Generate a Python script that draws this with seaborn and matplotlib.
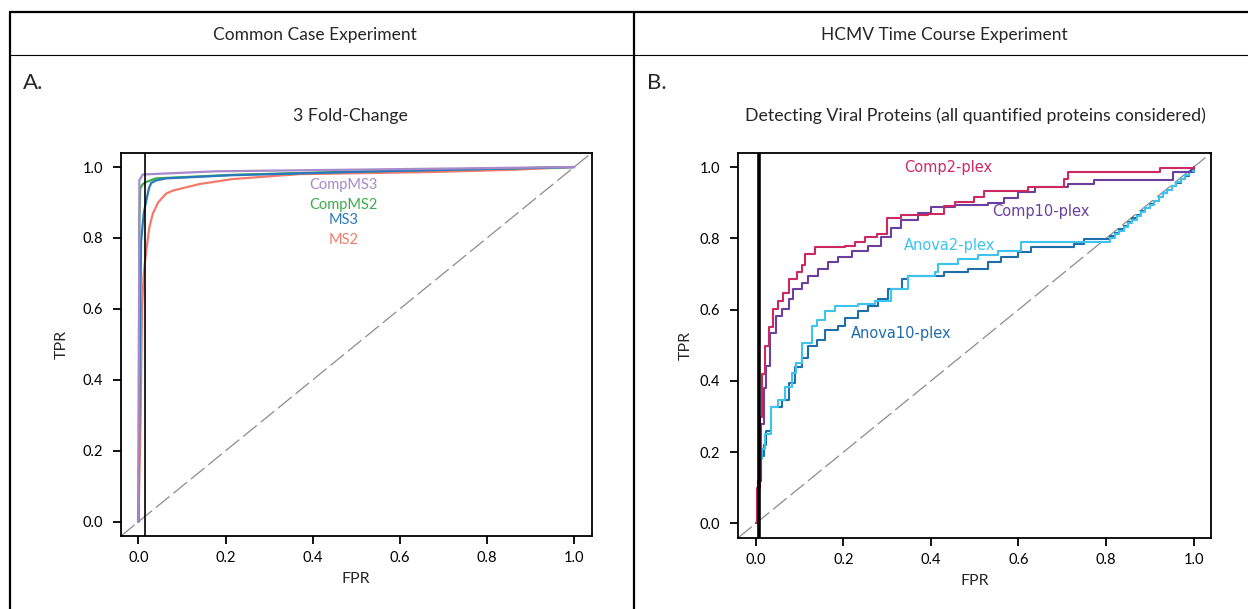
import matplotlib
matplotlib.use("Agg")
import matplotlib.pyplot as plt
from matplotlib.lines import Line2D
import pandas as pd
import seaborn as sns

# --- Panel A: common case experiment, 3 fold-change ---
ms2_fpr = [0.0, 0.005, 0.008, 0.012, 0.018, 0.025, 0.033, 0.045, 0.063, 0.08, 0.10, 0.14,
           0.215, 0.368, 0.673, 0.85, 1.0]
ms2_tpr = [0.0, 0.30, 0.60, 0.70, 0.765, 0.83, 0.869, 0.90, 0.925, 0.934, 0.94, 0.952,
           0.966, 0.98, 0.986, 0.992, 1.0]
compms2_fpr = [0.0, 0.002, 0.004, 0.01, 0.018, 0.04, 0.215, 0.52, 1.0]
compms2_tpr = [0.0, 0.85, 0.94, 0.952, 0.958, 0.968, 0.978, 0.988, 1.0]
ms3_fpr = [0.0, 0.003, 0.006, 0.012, 0.018, 0.024, 0.029, 0.04, 0.063, 0.215, 0.52, 1.0]
ms3_tpr = [0.0, 0.5, 0.79, 0.87, 0.906, 0.94, 0.955, 0.962, 0.968, 0.977, 0.987, 1.0]
compms3_fpr = [0.0, 0.002, 0.01, 0.178, 1.0]
compms3_tpr = [0.0, 0.963, 0.979, 0.988, 1.0]

# --- Panel B: HCMV time course, viral proteins ---
comp2_fpr = [0.0, 0.004, 0.01, 0.015, 0.021, 0.030, 0.040, 0.052, 0.063, 0.075, 0.094, 0.105,
             0.113, 0.135, 0.204, 0.227, 0.249, 0.276, 0.299, 0.332, 0.393, 0.431, 0.454, 0.499,
             0.522, 0.606, 0.621, 0.704, 0.712, 0.924, 1.0]
comp2_tpr = [0.0, 0.10, 0.30, 0.42, 0.497, 0.55, 0.601, 0.625, 0.648, 0.686, 0.705, 0.724,
             0.757, 0.776, 0.780, 0.789, 0.804, 0.813, 0.856, 0.867, 0.869, 0.892, 0.901, 0.915,
             0.934, 0.934, 0.943, 0.967, 0.986, 0.997, 1.0]
comp10_fpr = [0.0, 0.006, 0.012, 0.018, 0.024, 0.032, 0.047, 0.059, 0.075, 0.086, 0.105, 0.120,
              0.143, 0.166, 0.188, 0.219, 0.257, 0.287, 0.310, 0.332, 0.370, 0.401, 0.454, 0.530,
              0.568, 0.599, 0.637, 0.712, 0.773, 0.952, 0.995, 1.0]
comp10_tpr = [0.0, 0.12, 0.28, 0.38, 0.441, 0.535, 0.583, 0.601, 0.629, 0.657, 0.676, 0.695,
              0.714, 0.733, 0.747, 0.766, 0.780, 0.804, 0.828, 0.851, 0.870, 0.889, 0.894, 0.898,
              0.912, 0.931, 0.945, 0.952, 0.963, 0.986, 0.994, 1.0]
anova2_fpr = [0.0, 0.005, 0.010, 0.015, 0.021, 0.036, 0.052, 0.067, 0.082, 0.093, 0.105, 0.128,
              0.139, 0.158, 0.181, 0.234, 0.272, 0.310, 0.348, 0.409, 0.416, 0.462, 0.507, 0.553,
              0.606, 0.803, 0.81, 0.82, 0.83, 0.84, 0.85, 0.86, 0.87, 0.88, 0.89, 0.90, 0.91,
              0.92, 0.93, 0.94, 0.95, 0.96, 0.97, 0.98, 0.99, 1.0]
anova2_tpr = [0.0, 0.10, 0.18, 0.21, 0.252, 0.327, 0.346, 0.384, 0.421, 0.450, 0.506, 0.553,
              0.572, 0.596, 0.610, 0.615, 0.624, 0.657, 0.695, 0.705, 0.728, 0.742, 0.752, 0.766,
              0.789, 0.789, 0.80, 0.812, 0.822, 0.833, 0.843, 0.853, 0.864, 0.874, 0.885, 0.895,
              0.905, 0.916, 0.926, 0.937, 0.947, 0.958, 0.968, 0.979, 0.99, 1.0]
anova10_fpr = [0.0, 0.006, 0.012, 0.018, 0.024, 0.036, 0.059, 0.075, 0.090, 0.105, 0.120, 0.139,
               0.158, 0.188, 0.204, 0.234, 0.257, 0.280, 0.302, 0.333, 0.348, 0.424, 0.431, 0.484,
               0.530, 0.560, 0.599, 0.629, 0.727, 0.749, 0.803, 0.81, 0.82, 0.83, 0.84, 0.85,
               0.86, 0.87, 0.88, 0.89, 0.90, 0.91, 0.92, 0.93, 0.94, 0.95, 0.96, 0.97, 0.98,
               0.99, 1.0]
anova10_tpr = [0.0, 0.12, 0.19, 0.22, 0.26, 0.327, 0.346, 0.393, 0.440, 0.464, 0.497, 0.516,
               0.544, 0.553, 0.577, 0.596, 0.610, 0.629, 0.657, 0.685, 0.695, 0.695, 0.705, 0.714,
               0.733, 0.747, 0.761, 0.776, 0.785, 0.799, 0.799, 0.806, 0.816, 0.826, 0.836, 0.846,
               0.856, 0.866, 0.876, 0.886, 0.896, 0.906, 0.916, 0.926, 0.936, 0.946, 0.956, 0.966,
               0.976, 0.986, 0.995]

colors_a = {"MS2": "#f47a6b", "CompMS2": "#3aad4b", "MS3": "#2a79be", "CompMS3": "#a889c9"}
colors_b = {"Anova10-plex": "#1f6dab", "Anova2-plex": "#3cc4ee",
            "Comp10-plex": "#6a3f9e", "Comp2-plex": "#cc2a5e"}


def long_df(series):
    frames = []
    for name, (fpr, tpr) in series.items():
        frames.append(pd.DataFrame({"FPR": fpr, "TPR": tpr, "method": name}))
    return pd.concat(frames, ignore_index=True)


df_a = long_df({"MS2": (ms2_fpr, ms2_tpr), "CompMS2": (compms2_fpr, compms2_tpr),
                "MS3": (ms3_fpr, ms3_tpr), "CompMS3": (compms3_fpr, compms3_tpr)})
df_b = long_df({"Anova10-plex": (anova10_fpr, anova10_tpr), "Anova2-plex": (anova2_fpr, anova2_tpr),
                "Comp10-plex": (comp10_fpr, comp10_tpr), "Comp2-plex": (comp2_fpr, comp2_tpr)})

sns.set_theme(style="ticks")
plt.rcParams["font.family"] = ["Lato", "DejaVu Sans"]

fig = plt.figure(figsize=(12.48, 6.09), dpi=100)
ax_a = fig.add_axes([0.097, 0.120, 0.377, 0.629])
ax_b = fig.add_axes([0.5915, 0.117, 0.379, 0.632])

sns.lineplot(data=df_a, x="FPR", y="TPR", hue="method", palette=colors_a, sort=False,
             estimator=None, legend=False, linewidth=1.6, ax=ax_a)
sns.lineplot(data=df_b, x="FPR", y="TPR", hue="method", palette=colors_b, sort=False,
             estimator=None, legend=False, linewidth=1.5, drawstyle="steps-post", ax=ax_b)

for ax, vline_x, vline_w, ypad in ((ax_a, 0.015, 1.2, 10), (ax_b, 0.008, 2.6, 5)):
    ax.axline((0, 0), (1, 1), color="#8c8c8c", lw=0.9, dashes=(14, 4), zorder=1)
    ax.axvline(vline_x, color="black", lw=vline_w, zorder=3)
    ax.set_xlim(-0.04, 1.04)
    ax.set_ylim(-0.04, 1.04)
    ax.set_xticks([0.0, 0.2, 0.4, 0.6, 0.8, 1.0])
    ax.set_yticks([0.0, 0.2, 0.4, 0.6, 0.8, 1.0])
    ax.set_xticklabels(["0.0", "0.2", "0.4", "0.6", "0.8", "1.0"])
    ax.set_yticklabels(["0.0", "0.2", "0.4", "0.6", "0.8", "1.0"])
    ax.tick_params(direction="out", length=6, width=1.3, labelsize=10.5, colors="black")
    ax.tick_params(axis="y", pad=7)
    ax.tick_params(axis="x", pad=5)
    for sp in ax.spines.values():
        sp.set_visible(True)
        sp.set_linewidth(1.3)
        sp.set_color("black")
    ax.set_xlabel("FPR", fontsize=11.5, labelpad=5)
    ax.set_ylabel("TPR", fontsize=11.5, labelpad=ypad)

# curve labels
ax_a.text(0.47, 0.949, "CompMS3", color=colors_a["CompMS3"], fontsize=10.5, ha="center", va="center")
ax_a.text(0.47, 0.892, "CompMS2", color=colors_a["CompMS2"], fontsize=10.5, ha="center", va="center")
ax_a.text(0.47, 0.850, "MS3", color=colors_a["MS3"], fontsize=10.5, ha="center", va="center")
ax_a.text(0.47, 0.793, "MS2", color=colors_a["MS2"], fontsize=10.5, ha="center", va="center")

lbl = dict(fontsize=10.5, ha="center", va="center", family=["DejaVu Sans"])
ax_b.text(0.439, 0.998, "Comp2-plex", color=colors_b["Comp2-plex"], **lbl)
ax_b.text(0.651, 0.876, "Comp10-plex", color=colors_b["Comp10-plex"], **lbl)
ax_b.text(0.442, 0.780, "Anova2-plex", color=colors_b["Anova2-plex"], **lbl)
ax_b.text(0.333, 0.532, "Anova10-plex", color=colors_b["Anova10-plex"], **lbl)


# table frame around the two panels
def fy(py):
    return 1 - py / 609


def fx(px):
    return px / 1248


frame = dict(color="black", lw=1.6, transform=fig.transFigure)
fig.add_artist(Line2D([fx(10), 1.0], [fy(12), fy(12)], **frame))
fig.add_artist(Line2D([fx(10), 1.0], [fy(55), fy(55)], lw=0.8, color="black", transform=fig.transFigure))
fig.add_artist(Line2D([fx(10), fx(10)], [fy(12), 0.0], **frame))
fig.add_artist(Line2D([fx(634), fx(634)], [fy(12), 0.0], **frame))

fig.text(fx(315), fy(35), "Common Case Experiment", fontsize=12.5, ha="center", va="center")
fig.text(fx(944), fy(35), "HCMV Time Course Experiment", fontsize=12.5, ha="center", va="center")
fig.text(fx(23), fy(83), "A.", fontsize=16, ha="left", va="center")
fig.text(fx(647), fy(83), "B.", fontsize=16, ha="left", va="center")
fig.text(fx(350), fy(116), "3 Fold-Change", fontsize=12.8, ha="center", va="center")
fig.text(fx(975), fy(116), "Detecting Viral Proteins (all quantified proteins considered)",
         fontsize=12.8, ha="center", va="center")

fig.savefig("out.png", dpi=100)
